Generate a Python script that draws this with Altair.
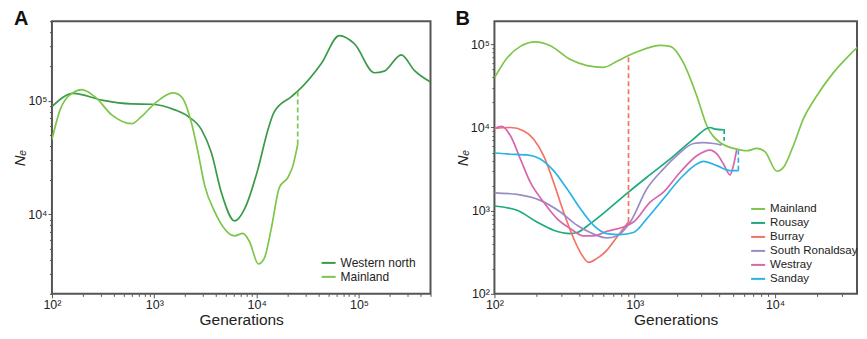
import altair as alt
import pandas as pd

FONT = "Liberation Sans"

# ---------------- Panel A data ----------------
a_wn_gen = [100, 162, 307, 601, 942, 1585, 2142, 2891, 3614, 4519, 6100, 7630, 10300, 12900,
            14900, 21700, 25200, 42700, 64300, 90500, 141700, 177000, 259000, 347000, 500000]
a_wn_ne = [88700, 116000, 101000, 93600, 93000, 83000, 72600, 55600, 34800, 15600, 8750, 11200,
           25000, 55600, 80000, 108000, 121000, 211000, 373000, 315000, 176000, 182000, 253000,
           185000, 146000]

a_ml_gen = [100, 120, 157, 196, 264, 384, 601, 752, 1014, 1530, 1845, 2310, 2680, 3110, 3900,
            6100, 7350, 8530, 10400, 11900, 13900, 16700, 20200, 22600, 25200]
a_ml_ne = [45500, 83000, 116000, 125000, 108000, 75000, 62700, 72600, 94800, 117000, 108000,
           63500, 34800, 17900, 10500, 6470, 6800, 5740, 3660, 4120, 7500, 17300, 21100, 26700,
           41200]

a_dash_gen = [25200, 25200]
a_dash_ne = [41200, 121000]

# ---------------- Panel B data ----------------
b_ml_gen = [100, 123, 153, 196, 250, 348, 457, 600, 747, 903, 1064, 1518, 1790, 2225, 2770,
            3265, 4060, 5340, 6290, 7410, 8500, 10300, 11500, 13500, 15900, 19800, 26000, 34200,
            45000]
b_ml_ne = [39500, 68500, 94600, 107000, 96400, 65600, 55600, 53000, 62600, 73300, 82500, 97300,
           94600, 59800, 23900, 10500, 6600, 5500, 5260, 5600, 5100, 2980, 3330, 6040, 12600,
           23900, 45400, 75300, 118000]

rousay_gen = [100, 145, 201, 264, 347, 388, 482, 634, 903, 1221, 1790, 2624, 3443, 3740, 4290]
rousay_ne = [1138, 1010, 731, 582, 531, 546, 699, 1010, 1672, 2524, 4188, 7260, 10000, 9550, 9380]

burray_gen = [100, 130, 162, 190, 224, 264, 311, 367, 421, 469, 538, 634, 747, 903]
burray_ne = [9730, 10000, 9100, 7260, 4580, 2200, 964, 463, 292, 239, 267, 336, 484, 731]

sron_gen = [100, 145, 212, 295, 388, 482, 634, 746, 929, 1221, 1603, 1995, 2624, 3090, 3640, 4170]
sron_ne = [1641, 1567, 1330, 965, 668, 546, 471, 497, 731, 1834, 3177, 4584, 6430, 6600, 6430, 6150]

westray_gen = [100, 113, 130, 153, 180, 224, 279, 347, 432, 509, 634, 832, 980, 1288, 1603, 2107,
               2770, 3443, 3845, 4290, 4780, 5050, 5330]
westray_ne = [9730, 10300, 7950, 4190, 2200, 1270, 803, 610, 498, 498, 566, 638, 731, 1268, 1672,
              2900, 4580, 5360, 4810, 3650, 2700, 3480, 5400]

sanday_gen = [100, 123, 171, 212, 264, 329, 409, 509, 634, 788, 980, 1221, 1603, 2107, 2770, 3090,
              3845, 4780, 5480]
sanday_ne = [4940, 4810, 4680, 4190, 3030, 1830, 1060, 668, 531, 516, 546, 803, 1393, 2420, 3650,
             3920, 3480, 3030, 3030]

burray_dash_gen = [903, 903]
burray_dash_ne = [731, 73300]
rousay_dash_gen = [4290, 4340, 4340]
rousay_dash_ne = [9380, 9380, 6930]
sanday_dash_gen = [5480, 5480]
sanday_dash_ne = [3030, 5300]

a_names = ["Western north", "Mainland"]
a_colors = ["#3A9A48", "#7DC64A"]
b_names = ["Mainland", "Rousay", "Burray", "South Ronaldsay", "Westray", "Sanday"]
b_colors = ["#7DC64A", "#1DAA7E", "#F47264", "#9A8CC8", "#D866AC", "#28B4E6"]


def frame(name, gen, ne, seg="s"):
    return pd.DataFrame({"series": name, "gen": gen, "ne": ne, "seg": seg,
                         "ord": list(range(len(gen)))})


def ticks(lo, hi):
    out = []
    d = 10
    while d <= hi:
        for m in range(1, 10):
            v = m * d
            if lo <= v <= hi:
                out.append(v)
        d *= 10
    return out


LABEL_EXPR = ("datum.value == 100 ? '10²' : datum.value == 1000 ? '10³' : "
              "datum.value == 10000 ? '10⁴' : datum.value == 100000 ? '10⁵' : ''")
TICK_TEST = "indexof([100,1000,10000,100000], datum.value) >= 0"


def log_axis(values, title, is_y):
    kw = dict(values=values, title=title, grid=False, domain=False,
              tickColor="#555", tickWidth=1,
              tickSize={"condition": {"test": TICK_TEST, "value": 4}, "value": 2.5},
              labelExpr=LABEL_EXPR, labelOverlap=False, labelFlush=False,
              labelFont=FONT, labelFontSize=12.5, labelColor="#222", labelPadding=1,
              titleFont=FONT, titleColor="#222", titleFontWeight="normal")
    if is_y:
        kw.update(titleFontSize=15, titleFontStyle="italic", titlePadding=0,
                  minExtent=24, maxExtent=24)
    else:
        kw.update(titleFontSize=15.5, titlePadding=1)
    return alt.Axis(**kw)


def panel(df, dash_df, names, colors, xdom, ydom, width, letter, lx, ly, title_x_off, rowpad,
          legfont):
    xs = alt.Scale(type="log", domain=xdom, nice=False)
    ys = alt.Scale(type="log", domain=ydom, nice=False)
    col = alt.Color("series:N", scale=alt.Scale(domain=names, range=colors),
                    legend=alt.Legend(orient="none", legendX=lx, legendY=ly, title=None,
                                      symbolType="stroke", symbolStrokeWidth=2,
                                      symbolSize=196, labelFont=FONT, labelFontSize=legfont,
                                      labelColor="#222", labelOffset=4, rowPadding=rowpad,
                                      padding=0))
    lines = alt.Chart(df).mark_line(strokeWidth=1.7, interpolate="monotone", clip=True).encode(
        x=alt.X("gen:Q", scale=xs, axis=log_axis(ticks(xdom[0], xdom[1]), "Generations", False)),
        y=alt.Y("ne:Q", scale=ys, axis=log_axis(ticks(ydom[0], ydom[1]), "Nₑ", True)),
        color=col,
        detail="seg:N",
    )
    dashes = alt.Chart(dash_df).mark_line(strokeWidth=1.7, strokeDash=[5, 3]).encode(
        x=alt.X("gen:Q", scale=xs),
        y=alt.Y("ne:Q", scale=ys),
        color=alt.Color("series:N", scale=alt.Scale(domain=names, range=colors), legend=None),
        detail="seg:N",
        order="ord:Q",
    )
    lab = alt.Chart(pd.DataFrame({"t": [letter]})).mark_text(
        align="left", baseline="alphabetic", fontSize=20, fontWeight="bold", font=FONT,
        color="#111").encode(x=alt.value(title_x_off), y=alt.value(4), text="t:N")
    return alt.layer(lines, dashes, lab).properties(width=width, height=273)


dfA = pd.concat([frame("Western north", a_wn_gen, a_wn_ne, "wn"),
                 frame("Mainland", a_ml_gen, a_ml_ne, "ml")])
dashA = frame("Mainland", a_dash_gen, a_dash_ne, "d1")

dfB = pd.concat([frame("Mainland", b_ml_gen, b_ml_ne, "ml"),
                 frame("Rousay", rousay_gen, rousay_ne, "ro"),
                 frame("Burray", burray_gen, burray_ne, "bu"),
                 frame("South Ronaldsay", sron_gen, sron_ne, "sr"),
                 frame("Westray", westray_gen, westray_ne, "we"),
                 frame("Sanday", sanday_gen, sanday_ne, "sa")])
dashB = pd.concat([frame("Burray", burray_dash_gen, burray_dash_ne, "d1"),
                   frame("Rousay", rousay_dash_gen, rousay_dash_ne, "d2"),
                   frame("Sanday", sanday_dash_gen, sanday_dash_ne, "d3")])

pA = panel(dfA, dashA, a_names, a_colors, [100, 500000], [2000, 500000], 379, "A",
           269, 234, -38, 0, 12)
pB = panel(dfB, dashB, b_names, b_colors, [100, 38400], [100, 190000], 363, "B",
           256, 180, -39, -2, 11.5)

chart = alt.hconcat(pA, pB, spacing=22).resolve_scale(
    color="independent", x="independent", y="independent"
).resolve_legend(color="independent").properties(
    padding={"left": 4, "top": 0, "right": 0, "bottom": 0}
).configure_view(stroke="#555", strokeWidth=2)

chart.save("out.html", embed_options={"renderer": "svg", "actions": False})
